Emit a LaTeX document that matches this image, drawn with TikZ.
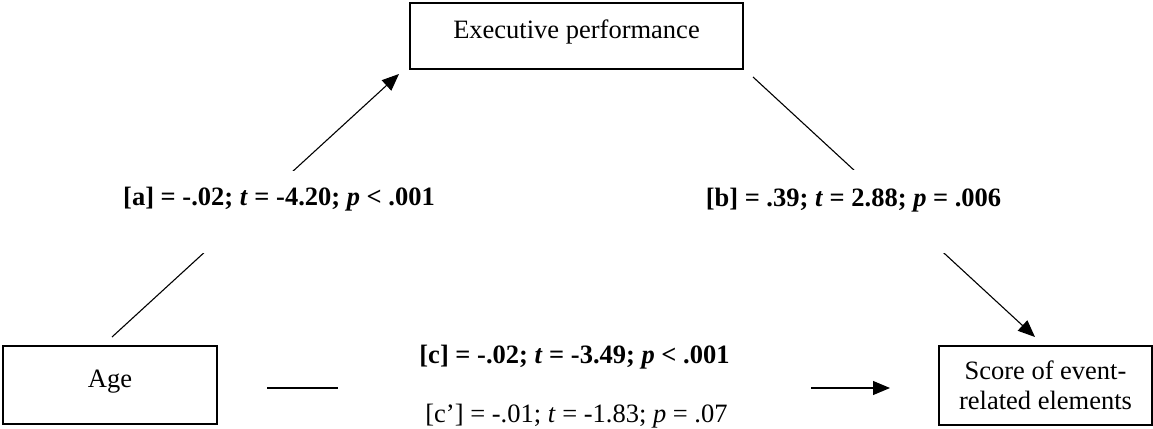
\documentclass[tikz,border=0pt]{standalone}
\usepackage{fontspec}
\setmainfont{Liberation Serif}
\usetikzlibrary{arrows.meta}
\newcommand\figfont{\fontsize{13.25pt}{15pt}\selectfont}
\tikzset{
  box/.style={draw, line width=0.65pt, inner sep=0pt, align=center, font=\figfont},
  arr/.style={-{Triangle[length=8.5pt,width=7pt]}, line width=0.55pt},
  lbl/.style={inner sep=0pt, anchor=base, font=\figfont\bfseries},
}

\begin{document}
\begin{tikzpicture}[x=0.5pt, y=-0.5pt]
\useasboundingbox (0,0) rectangle (1153,429);
\node[box, minimum width=166.5pt, minimum height=33pt, text height=9pt, text depth=7pt] (exec) at (576.5,36) {Executive performance};
\node[box, minimum width=107pt, minimum height=39pt, text height=9pt, text depth=7pt] (age) at (110,385) {Age};
\node[box, minimum width=106.5pt, minimum height=39.5pt] (score) at (1045.5,385.5) {Score of event-\\related elements};
\coordinate (a0) at (112,337);
\coordinate (a1) at (399,74);
\coordinate (b0) at (753,77);
\coordinate (b1) at (1035,337);
\coordinate (c0) at (267,388);
\coordinate (c1) at (890,388);
\draw[arr] (a0) -- (a1);
\draw[arr] (b0) -- (b1);
\draw[arr] (c0) -- (c1);
\node[lbl, fill=white, text height=17pt, text depth=24pt] (la) at (279,205) {[a] = -.02; \textit{t} = -4.20; \textit{p} < .001};
\node[lbl, fill=white, text height=18pt, text depth=23.5pt] (lb) at (853.5,206) {[b] = .39; \textit{t} = 2.88; \textit{p} = .006};
\node[lbl, fill=white, minimum width=236.5pt, text depth=15pt] (lc) at (574.5,363) {[c] = -.02; \textit{t} = -3.49; \textit{p} < .001};
\node[lbl, font=\figfont] (lcp) at (576.5,422) {[c’] = -.01; \textit{t} = -1.83; \textit{p} = .07};
\end{tikzpicture}
\end{document}
